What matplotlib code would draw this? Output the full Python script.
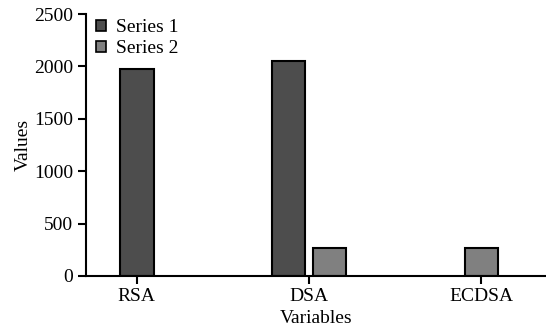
import matplotlib
matplotlib.use("Agg")
import matplotlib.pyplot as plt
import numpy as np

categories = ["RSA", "DSA", "ECDSA"]
series1 = [1980, 2050, None]
series2 = [None, 265, 265]
series_names = ["Series 1", "Series 2"]
colors = ["#4d4d4d", "#808080"]

plt.rcParams['font.family'] = ['Liberation Serif', 'DejaVu Serif']

fig = plt.figure(figsize=(5.46, 3.32), dpi=100)
ax = fig.add_axes([0.1575, 0.1687, 0.8425, 0.789])

width = 0.195
offset = 0.119
x = np.arange(len(categories))
handles = [None, None]
for i in range(len(categories)):
    vals = [series1[i], series2[i]]
    present = [k for k in range(2) if vals[k] is not None]
    n = len(present)
    for j, k in enumerate(present):
        pos = x[i] + (0 if n == 1 else (-offset if j == 0 else offset))
        b = ax.bar(pos, vals[k], width=width, color=colors[k], edgecolor="black",
                   linewidth=1.5, label=series_names[k])
        handles[k] = b

ax.set_xlim(-0.295, 2.375)
ax.set_ylim(0, 2500)
ax.set_yticks([0, 500, 1000, 1500, 2000, 2500])
ax.set_xticks(x)
ax.set_xticklabels(categories)
ax.spines['top'].set_visible(False)
ax.spines['right'].set_visible(False)
for s in ['left', 'bottom']:
    ax.spines[s].set_linewidth(1.5)
fs = 14
ax.tick_params(axis='both', direction='out', length=6, width=1.5, labelsize=fs, pad=3)
ax.set_ylabel("Values", fontsize=fs, labelpad=2)
ax.set_xlabel("Variables", fontsize=fs, labelpad=3)

leg = ax.legend(handles=handles, labels=series_names, loc='upper left',
                bbox_to_anchor=(0.005, 1.01), frameon=False, fontsize=fs,
                handlelength=0.5, handleheight=0.5, handletextpad=0.5,
                labelspacing=0.2, borderaxespad=0)
for h in leg.legend_handles:
    h.set_linewidth(1.2)

fig.savefig("out.png", dpi=100)
